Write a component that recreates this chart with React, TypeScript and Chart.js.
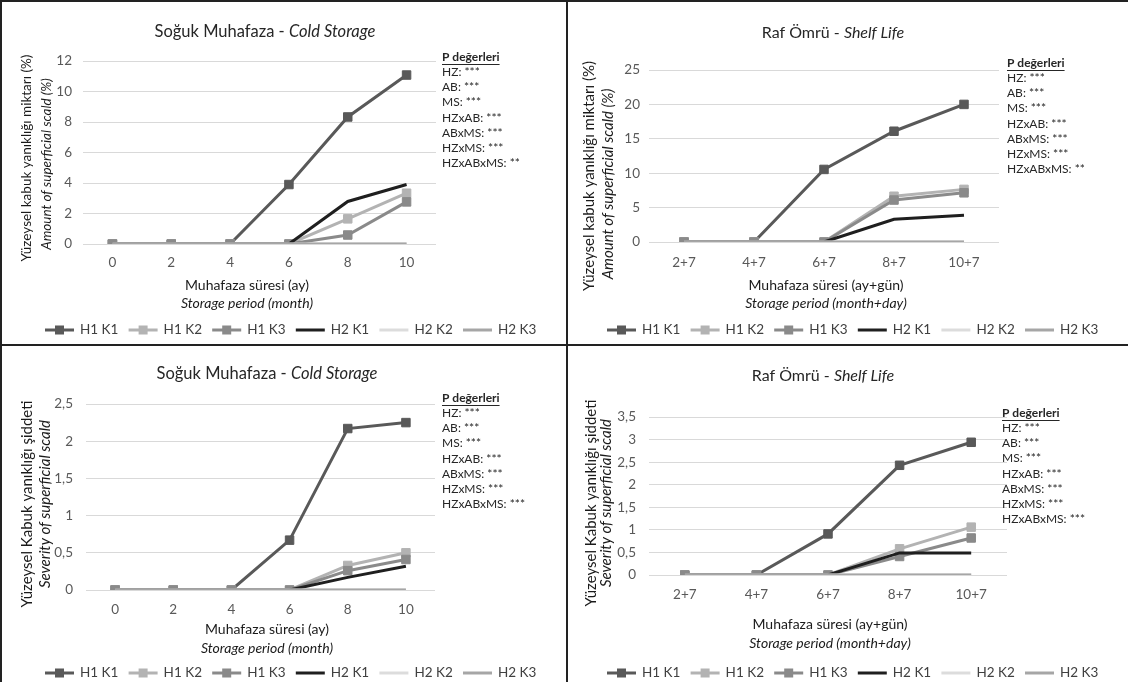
import { useEffect, useRef } from "react";
import { Chart, registerables } from "chart.js";

Chart.register(...registerables);

// ---------- data ----------
const coldLabels = ["0", "2", "4", "6", "8", "10"];
const shelfLabels = ["2+7", "4+7", "6+7", "8+7", "10+7"];
const seriesNames = ["H1 K1", "H1 K2", "H1 K3", "H2 K1", "H2 K2", "H2 K3"];

const coldAmount = [
  [0, 0, 0, 3.9, 8.33, 11.08],
  [0, 0, 0, 0, 1.65, 3.33],
  [0, 0, 0, 0, 0.59, 2.76],
  [0, 0, 0, 0, 2.79, 3.9],
  [0, 0, 0, 0, 0, 0],
  [0, 0, 0, 0, 0, 0],
];
const shelfAmount = [
  [0, 0, 10.55, 16.1, 20.0],
  [0, 0, 0, 6.65, 7.65],
  [0, 0, 0, 6.1, 7.15],
  [0, 0, 0, 3.3, 3.9],
  [0, 0, 0, 0, 0],
  [0, 0, 0, 0, 0],
];
const coldSeverity = [
  [0, 0, 0, 0.67, 2.17, 2.25],
  [0, 0, 0, 0, 0.33, 0.5],
  [0, 0, 0, 0, 0.26, 0.41],
  [0, 0, 0, 0, 0.17, 0.32],
  [0, 0, 0, 0, 0, 0],
  [0, 0, 0, 0, 0, 0],
];
const shelfSeverity = [
  [0, 0, 0.91, 2.43, 2.94],
  [0, 0, 0, 0.58, 1.06],
  [0, 0, 0, 0.41, 0.82],
  [0, 0, 0, 0.49, 0.49],
  [0, 0, 0, 0, 0],
  [0, 0, 0, 0, 0],
];

const pHeader = "P değerleri";
const pLabelsA = ["HZ: ***", "AB: ***", "MS: ***", "HZxAB: ***", "ABxMS: ***", "HZxMS: ***", "HZxABxMS: **"];
const pLabelsB = ["HZ: ***", "AB: ***", "MS: ***", "HZxAB: ***", "ABxMS: ***", "HZxMS: ***", "HZxABxMS: ***"];

const titleCold: [string, string] = ["Soğuk Muhafaza - ", "Cold Storage"];
const titleShelf: [string, string] = ["Raf Ömrü - ", "Shelf Life"];
const xTitleCold: [string, string] = ["Muhafaza süresi (ay)", "Storage period (month)"];
const xTitleShelf: [string, string] = ["Muhafaza süresi (ay+gün)", "Storage period (month+day)"];
const yTitleAmount: [string, string] = ["Yüzeysel kabuk yanıklığı miktarı (%)", "Amount of superficial scald (%)"];
const yTitleSeverity: [string, string] = ["Yüzeysel Kabuk yanıklığı şiddeti", "Severity of superficial scald"];

// ---------- styles ----------
const FONT = '"Lato", "Open Sans", sans-serif';
const lineColors = ["#595959", "#b3b3b3", "#8a8a8a", "#1f1f1f", "#dcdcdc", "#a6a6a6"];
const hasMarker = [true, true, true, false, false, false];

type Panel = {
  left: number; top: number; w: number; h: number;
  labels: string[]; series: number[][]; yMax: number; yStep: number;
  plot: { l: number; r: number; t: number; b: number };
  yTickPad: number; xTickPad: number;
  title: [string, string]; titleX: number; titleY: number; titleSize: number;
  xTitle: [string, string]; xTitleX: number; xTitleY: [number, number];
  yTitle: [string, string]; yTitleX: [number, number]; yTitleY: [number, number]; yTitleSize: number;
  pLabels: string[]; pX: number; pY: number;
  legendX: number; legendY: number;
};

const panels: Panel[] = [
  {
    left: 0, top: 0, w: 566, h: 344, labels: coldLabels, series: coldAmount, yMax: 12, yStep: 2,
    plot: { l: 83, r: 436, t: 61, b: 244 }, yTickPad: 11, xTickPad: 3,
    title: titleCold, titleX: 265, titleY: 32, titleSize: 16.5,
    xTitle: xTitleCold, xTitleX: 247, xTitleY: [285, 303],
    yTitle: yTitleAmount, yTitleX: [27, 47], yTitleY: [158, 164], yTitleSize: 13.5,
    pLabels: pLabelsA, pX: 442, pY: 57, legendX: 45, legendY: 330,
  },
  {
    left: 568, top: 0, w: 560, h: 344, labels: shelfLabels, series: shelfAmount, yMax: 25, yStep: 5,
    plot: { l: 81, r: 431, t: 70, b: 242 }, yTickPad: 9, xTickPad: 5,
    title: titleShelf, titleX: 265, titleY: 33, titleSize: 16,
    xTitle: xTitleShelf, xTitleX: 258, xTitleY: [285, 303],
    yTitle: yTitleAmount, yTitleX: [21, 40], yTitleY: [176, 184], yTitleSize: 15,
    pLabels: pLabelsA, pX: 439, pY: 63, legendX: 39, legendY: 330,
  },
  {
    left: 0, top: 346, w: 566, h: 336, labels: coldLabels, series: coldSeverity, yMax: 2.5, yStep: 0.5,
    plot: { l: 86, r: 435, t: 58, b: 244 }, yTickPad: 13, xTickPad: 4,
    title: titleCold, titleX: 267, titleY: 28, titleSize: 16.5,
    xTitle: xTitleCold, xTitleX: 267, xTitleY: [283, 302],
    yTitle: yTitleSeverity, yTitleX: [27, 45], yTitleY: [158, 158], yTitleSize: 15,
    pLabels: pLabelsB, pX: 442, pY: 52, legendX: 45, legendY: 327,
  },
  {
    left: 568, top: 346, w: 560, h: 336, labels: shelfLabels, series: shelfSeverity, yMax: 3.5, yStep: 0.5,
    plot: { l: 81, r: 439, t: 71, b: 229 }, yTickPad: 13, xTickPad: 4,
    title: titleShelf, titleX: 255, titleY: 30, titleSize: 16,
    xTitle: xTitleShelf, xTitleX: 262, xTitleY: [278, 297],
    yTitle: yTitleSeverity, yTitleX: [23, 38], yTitleY: [157, 157], yTitleSize: 15,
    pLabels: pLabelsB, pX: 434, pY: 67, legendX: 39, legendY: 327,
  },
];

function drawMixed(ctx: CanvasRenderingContext2D, parts: [string, string][], cx: number, cy: number) {
  const widths = parts.map(([t, f]) => { ctx.font = f; return ctx.measureText(t).width; });
  const total = widths.reduce((a, b) => a + b, 0);
  let x = cx - total / 2;
  ctx.textAlign = "left";
  ctx.textBaseline = "middle";
  parts.forEach(([t, f], i) => { ctx.font = f; ctx.fillText(t, x, cy); x += widths[i]; });
}

function makePlugin(p: Panel) {
  return {
    id: "panelText",
    afterDraw(chart: any) {
      const ctx: CanvasRenderingContext2D = chart.ctx;
      ctx.save();
      // title
      ctx.fillStyle = "#262626";
      drawMixed(ctx, [[p.title[0], `${p.titleSize}px ${FONT}`], [p.title[1], `italic ${p.titleSize}px ${FONT}`]], p.titleX, p.titleY);
      // x title
      ctx.fillStyle = "#1a1a1a";
      ctx.textAlign = "center";
      ctx.textBaseline = "middle";
      ctx.font = `14px ${FONT}`;
      ctx.fillText(p.xTitle[0], p.xTitleX, p.xTitleY[0]);
      ctx.font = `italic 14px ${FONT}`;
      ctx.fillText(p.xTitle[1], p.xTitleX, p.xTitleY[1]);
      // y title
      for (let i = 0; i < 2; i++) {
        ctx.save();
        ctx.translate(p.yTitleX[i], p.yTitleY[i]);
        ctx.rotate(-Math.PI / 2);
        ctx.font = `${i === 1 ? "italic " : ""}${p.yTitleSize}px ${FONT}`;
        ctx.textAlign = "center";
        ctx.textBaseline = "middle";
        ctx.fillText(p.yTitle[i], 0, 0);
        ctx.restore();
      }
      // P values
      ctx.fillStyle = "#262626";
      ctx.textAlign = "left";
      ctx.textBaseline = "middle";
      ctx.font = `bold 12px ${FONT}`;
      ctx.fillText(pHeader, p.pX, p.pY);
      const hw = ctx.measureText(pHeader).width;
      ctx.strokeStyle = "#262626";
      ctx.lineWidth = 1;
      ctx.beginPath();
      ctx.moveTo(p.pX, Math.round(p.pY + 7) + 0.5);
      ctx.lineTo(p.pX + hw, Math.round(p.pY + 7) + 0.5);
      ctx.stroke();
      ctx.font = `12px ${FONT}`;
      p.pLabels.forEach((t, i) => ctx.fillText(t, p.pX, p.pY + 15.2 * (i + 1)));
      // legend
      const ds = chart.data.datasets;
      let x = p.legendX;
      ds.forEach((d: any, i: number) => {
        ctx.strokeStyle = d.borderColor;
        ctx.lineWidth = 3;
        ctx.beginPath();
        ctx.moveTo(x, p.legendY);
        ctx.lineTo(x + 29, p.legendY);
        ctx.stroke();
        if (hasMarker[i]) {
          ctx.fillStyle = d.pointBackgroundColor;
          ctx.fillRect(x + 14.5 - 4.5, p.legendY - 4.5, 9, 9);
        }
        ctx.fillStyle = "#404040";
        ctx.font = `13.5px ${FONT}`;
        ctx.textAlign = "left";
        ctx.textBaseline = "middle";
        ctx.fillText(seriesNames[i], x + 35, p.legendY);
        x += 83.6;
      });
      ctx.restore();
    },
  };
}

function PanelChart({ p }: { p: Panel }) {
  const ref = useRef<HTMLCanvasElement | null>(null);
  useEffect(() => {
    if (!ref.current) return;
    const chart = new Chart(ref.current, {
      type: "line",
      data: {
        labels: p.labels,
        datasets: p.series.map((vals, i) => ({
          label: seriesNames[i],
          data: vals,
          borderColor: lineColors[i],
          backgroundColor: lineColors[i],
          pointBackgroundColor: lineColors[i],
          pointBorderColor: lineColors[i],
          borderWidth: 3,
          pointStyle: "rect",
          pointRadius: hasMarker[i] ? 6 : 0,
          pointBorderWidth: 1,
          tension: 0,
          fill: false,
          order: 6 - i,
        })),
      },
      options: {
        responsive: false,
        animation: false,
        events: [],
        layout: { padding: { left: 0, top: p.plot.t, right: p.w - p.plot.r, bottom: 0 } },
        plugins: { legend: { display: false }, title: { display: false }, tooltip: { enabled: false } },
        scales: {
          x: {
            type: "category",
            offset: true,
            grid: { display: false },
            border: { display: false },
            ticks: { color: "#595959", font: { family: FONT, size: 13.5 }, padding: p.xTickPad, maxRotation: 0, autoSkip: false },
            afterFit: (s: any) => { s.height = p.h - p.plot.b; },
          },
          y: {
            min: 0,
            max: p.yMax,
            grid: { color: "#d9d9d9", lineWidth: 1, drawTicks: false },
            border: { display: false },
            ticks: {
              stepSize: p.yStep,
              color: "#595959",
              font: { family: FONT, size: 13.5 },
              padding: p.yTickPad,
              callback: (v: any) => String(v).replace(".", ","),
            },
            afterFit: (s: any) => { s.width = p.plot.l; },
          },
        },
      },
      plugins: [makePlugin(p)],
    } as any);
    return () => chart.destroy();
  }, [p]);
  return (
    <canvas
      ref={ref}
      width={p.w}
      height={p.h}
      style={{ position: "absolute", left: p.left, top: p.top, width: p.w, height: p.h }}
    />
  );
}

export default function App() {
  return (
    <div style={{ position: "fixed", left: 0, top: 0, width: 1128, height: 682, background: "#ffffff", overflow: "hidden" }}>
      {panels.map((p, i) => <PanelChart key={i} p={p} />)}
      <div style={{ position: "absolute", left: 0, top: 0, width: 2, height: 682, background: "#222" }} />
      <div style={{ position: "absolute", left: 0, top: 0, width: 1128, height: 2, background: "#222" }} />
      <div style={{ position: "absolute", left: 566, top: 0, width: 2, height: 682, background: "#222" }} />
      <div style={{ position: "absolute", left: 0, top: 344, width: 1128, height: 2, background: "#222" }} />
    </div>
  );
}
